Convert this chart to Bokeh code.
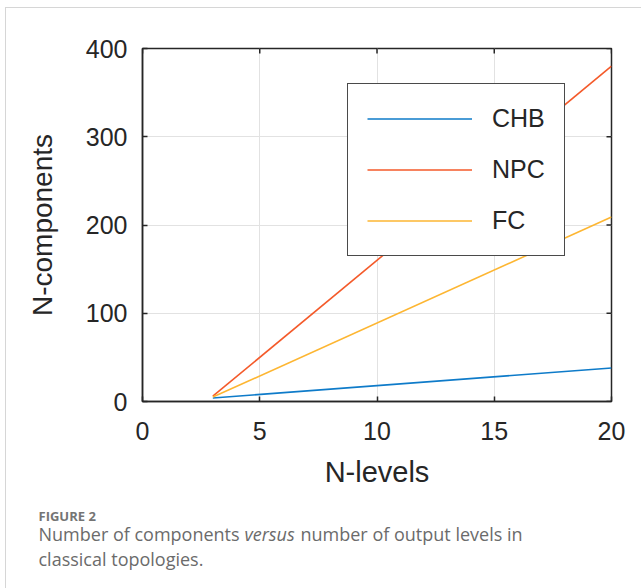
import math
from bokeh.plotting import figure
from bokeh.layouts import column
from bokeh.models import FixedTicker, Legend, LegendItem, Label, Range1d
from bokeh.embed import file_html
from bokeh.resources import INLINE

# ---- data ----
n_levels = [3, 20]
chb = [4, 38]
npc = [6, 380]
fc = [5, 209]
series_names = ["CHB", "NPC", "FC"]
series_colors = ["#0E7BC9", "#F45A2A", "#FDB632"]
x_ticks = [0, 5, 10, 15, 20]
y_ticks = [0, 100, 200, 300, 400]
x_label = "N-levels"
y_label = "N-components"
fig_tag = "FIGURE 2"
caption_1 = "Number of components"
caption_it = "versus"
caption_2 = "number of output levels in"
caption_3 = "classical topologies."

# ---- layout (pixels) ----
OX, OY = 6, 8            # content origin on page (inside the light frame)
W = 641 - OX
FL, FT, FW, FH = 142 - OX, 48 - OY, 469, 353
CH = 490                 # chart canvas height
CAP_H = 588 - OY - CH    # caption canvas height
XMIN, XMAX, YMIN, YMAX = 0, 20, 0, 400
INK = "#262626"
font = "Liberation Sans"

p = figure(frame_width=FW, frame_height=FH, output_backend="svg",
           toolbar_location=None, x_range=Range1d(XMIN, XMAX),
           y_range=Range1d(YMIN, YMAX), min_border_left=FL, min_border_top=FT,
           min_border_right=W - FL - FW, min_border_bottom=CH - FT - FH,
           background_fill_color="white", border_fill_color="white")
p.outline_line_color = INK
p.outline_line_width = 1.5
p.outline_line_alpha = 1

for ax in (p.xaxis[0], p.yaxis[0]):
    ax.major_tick_in = 5
    ax.major_tick_out = 0
    ax.minor_tick_line_color = None
    ax.axis_line_color = INK
    ax.axis_line_width = 1.5
    ax.major_tick_line_color = INK
    ax.major_tick_line_width = 1.5
    ax.major_label_text_font = font
    ax.major_label_text_font_size = "25px"
    ax.major_label_text_color = INK
    ax.axis_label_text_font = font
    ax.axis_label_text_font_style = "normal"
    ax.axis_label_text_color = INK

p.xaxis[0].ticker = FixedTicker(ticks=x_ticks)
p.yaxis[0].ticker = FixedTicker(ticks=y_ticks)
p.xaxis[0].axis_label = x_label
p.yaxis[0].axis_label = y_label
p.xaxis[0].axis_label_text_font_size = "29px"
p.yaxis[0].axis_label_text_font_size = "28px"
p.xaxis[0].major_label_standoff = 20
p.yaxis[0].major_label_standoff = 15
p.xaxis[0].axis_label_standoff = 13
p.yaxis[0].axis_label_standoff = 25

# inward ticks on the top and right edges of the box
p.scatter(x=x_ticks, y=[YMAX] * len(x_ticks), marker="dash", angle=math.pi / 2,
          size=10, line_color=INK, line_width=1.5)
p.scatter(x=[XMAX] * len(y_ticks), y=y_ticks, marker="dash", angle=0,
          size=10, line_color=INK, line_width=1.5)

p.xgrid.ticker = FixedTicker(ticks=x_ticks)
p.ygrid.ticker = FixedTicker(ticks=y_ticks)
p.grid.grid_line_color = "#e2e2e2"
p.grid.grid_line_width = 1

renderers = []
for ys, c in zip([chb, npc, fc], series_colors):
    renderers.append(p.line(n_levels, ys, line_color=c, line_width=1.6))

legend = Legend(items=[LegendItem(label=n, renderers=[r]) for n, r in zip(series_names, renderers)],
                location=(205, 145), glyph_width=105, glyph_height=31,
                label_height=31, spacing=20, padding=19, label_standoff=20,
                label_text_font=font, label_text_font_size="25px",
                label_text_color=INK,
                border_line_color="#4a4a4a", border_line_width=1.8, border_line_alpha=1,
                background_fill_color="white", background_fill_alpha=1)
p.add_layout(legend, "center")

# ---- caption canvas ----
cap = figure(width=W, height=CAP_H, output_backend="svg", toolbar_location=None,
             x_range=Range1d(0, W), y_range=Range1d(CAP_H, 0),
             min_border=0, background_fill_color="white", border_fill_color="white")
cap.axis.visible = False
cap.grid.visible = False
cap.outline_line_color = None

for f in (p, cap):
    if "frame_align" in f.properties():
        f.frame_align = False

cap_font = "Open Sans"
cap_color = "#6b6b6b"
cx = 38 - OX
b0 = 515 - OY - CH
b1 = 533 - OY - CH
b2 = 558 - OY - CH
cap.add_layout(Label(x=cx, y=b0, text=fig_tag, text_font=cap_font,
                     text_font_size="13px", text_font_style="bold", text_color="#747474",
                     text_baseline="alphabetic"))
cap.add_layout(Label(x=cx, y=b1, text=caption_1, text_font=cap_font,
                     text_font_size="18px", text_color=cap_color, text_baseline="alphabetic"))
cap.add_layout(Label(x=244 - OX, y=b1, text=caption_it, text_font=cap_font,
                     text_font_size="18px", text_font_style="italic", text_color=cap_color,
                     text_baseline="alphabetic"))
cap.add_layout(Label(x=300 - OX, y=b1, text=caption_2, text_font=cap_font,
                     text_font_size="18px", text_color=cap_color, text_baseline="alphabetic"))
cap.add_layout(Label(x=cx, y=b2, text=caption_3, text_font=cap_font,
                     text_font_size="18px", text_color=cap_color, text_baseline="alphabetic"))

layout = column(p, cap, spacing=0,
                styles={"border-top": "1px solid #d6d6d6", "border-left": "1px solid #d6d6d6",
                        "margin-left": f"{OX - 1}px", "margin-top": f"{OY - 1}px"})

open("out.html", "w").write(file_html(layout, INLINE))
